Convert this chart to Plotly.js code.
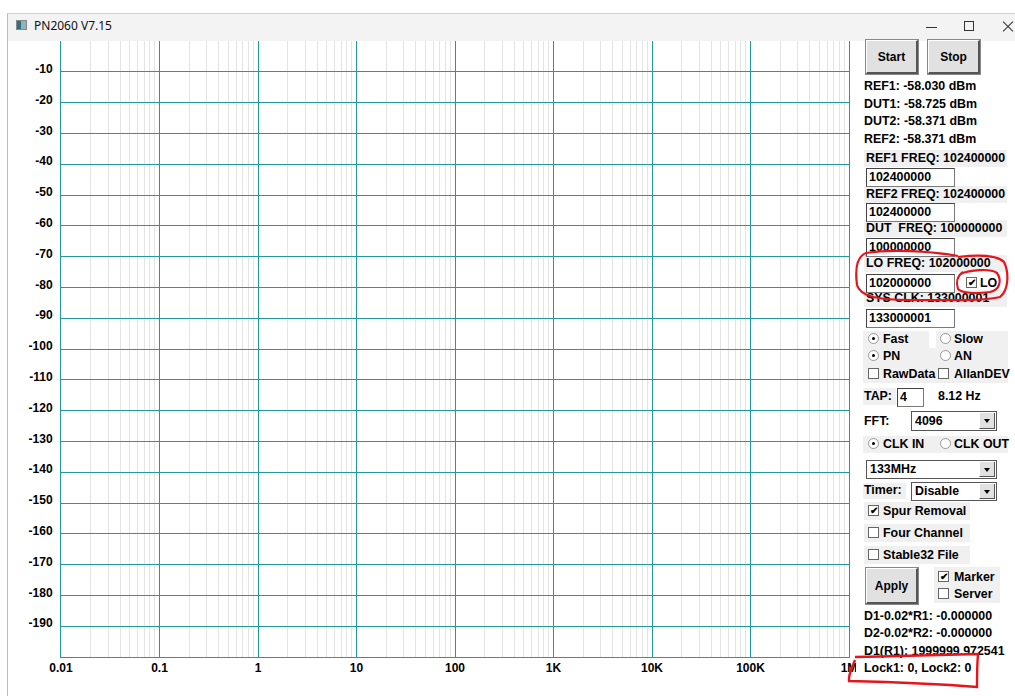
<!DOCTYPE html>
<html><head><meta charset="utf-8">
<script src="https://cdn.plot.ly/plotly-3.0.1.min.js"></script>
<style>
body{margin:0;background:#fff;overflow:hidden;width:1015px;height:696px;position:relative;font-family:"Liberation Sans",Arial,sans-serif;}
#chart{position:absolute;left:0;top:0;width:1015px;height:696px;}
.a{position:absolute;box-sizing:border-box;}
.lbl{position:absolute;font-weight:bold;font-size:12.4px;line-height:16px;height:16px;color:#000;white-space:nowrap;}
.gbg{position:absolute;background:#f0f0f0;}
.btn{position:absolute;box-sizing:border-box;background:#e1e1e1;border-top:1px solid #fff;border-left:1px solid #fff;border-right:2px solid #555;border-bottom:2px solid #555;outline:1px solid #888;font-weight:bold;font-size:12px;display:flex;align-items:center;justify-content:center;}
.inp{position:absolute;box-sizing:border-box;background:#fff;border:1px solid #7a7a7a;border-top-color:#444;border-left-color:#444;font-weight:bold;font-size:12.4px;line-height:16px;padding-left:2px;}
.chk{position:absolute;box-sizing:border-box;width:11px;height:11px;background:#fff;border:1px solid #666;font-size:10px;line-height:9px;text-align:center;font-weight:bold;}
.rad{position:absolute;box-sizing:border-box;width:11px;height:11px;border-radius:50%;background:#fff;border:1px solid #999;}
.rad.on::after{content:"";position:absolute;left:3px;top:3px;width:3px;height:3px;border-radius:50%;background:#000;}
.sel{position:absolute;box-sizing:border-box;background:#fff;border:1px solid #555;font-weight:bold;font-size:12.4px;padding-left:3px;}
.sel .dd{position:absolute;right:1px;top:1px;bottom:1px;width:14px;background:#e1e1e1;border-left:1px solid #fff;border-right:1px solid #555;border-bottom:1px solid #555;}
.sel .dd::after{content:"";position:absolute;left:4px;top:6px;border-left:3px solid transparent;border-right:3px solid transparent;border-top:4px solid #000;}
</style>
</head><body>
<div id="chart"></div>
<div id="ui"></div>
<script>
// ---- chart data (empty measurement, axes only) ----
const xTickVals = [0.01, 0.1, 1, 10, 100, 1000, 10000, 100000, 1000000];
const xTickText = ["0.01", "0.1", "1", "10", "100", "1K", "10K", "100K", "1M"];
const yTickVals = [-10, -20, -30, -40, -50, -60, -70, -80, -90, -100, -110, -120, -130, -140, -150, -160, -170, -180, -190];
const yTickText = ["-10", "-20", "-30", "-40", "-50", "-60", "-70", "-80", "-90", "-100", "-110", "-120", "-130", "-140", "-150", "-160", "-170", "-180", "-190"];
const xRangeLog = [-2, 6];
const yRange = [-200, 0];

// ---- panel texts ----
const powerReadings = ["REF1: -58.030 dBm", "DUT1: -58.725 dBm", "DUT2: -58.371 dBm", "REF2: -58.371 dBm"];
const freqLabels = ["REF1 FREQ: 102400000", "REF2 FREQ: 102400000", "DUT  FREQ: 100000000", "LO FREQ: 102000000", "SYS CLK: 133000001"];
const freqInputs = ["102400000", "102400000", "100000000", "102000000", "133000001"];
const diffReadings = ["D1-0.02*R1: -0.000000", "D2-0.02*R2: -0.000000", "D1(R1): 1999999.972541", "Lock1: 0, Lock2: 0"];

const minorVals = [];
xTickVals.slice(0, -1).forEach(v => { for (let k = 2; k <= 9; k++) minorVals.push(v * k); });

const teal = '#23999a';
const tf = {family: 'Liberation Sans, Arial, sans-serif', size: 12, color: '#000', weight: 'bold'};

Plotly.newPlot('chart', [{x: [], y: [], type: 'scatter', mode: 'lines', showlegend: false}], {
  width: 1015, height: 696,
  margin: {l: 61, r: 166, t: 41, b: 39, pad: 0},
  paper_bgcolor: '#fff', plot_bgcolor: '#fff',
  showlegend: false,
  xaxis: {type: 'log', range: xRangeLog, tickmode: 'array', tickvals: xTickVals, ticktext: xTickText,
    showgrid: true, gridcolor: teal, gridwidth: 1, showline: true, linecolor: teal, linewidth: 1, mirror: true,
    ticks: '', zeroline: false, tickfont: tf, ticklabelstandoff: 0, fixedrange: true,
    minor: {tickvals: minorVals, showgrid: true, gridcolor: '#e4e4e4', gridwidth: 1, ticks: ''}},
  yaxis: {range: yRange, tickmode: 'array', tickvals: yTickVals, ticktext: yTickText,
    showgrid: true, gridcolor: teal, gridwidth: 1, showline: true, linecolor: teal, linewidth: 1, mirror: true,
    ticks: '', zeroline: false, tickfont: tf, ticklabelstandoff: 5, ticklabelshift: -3, fixedrange: true}
}, {staticPlot: true, displayModeBar: false});

// ---- window chrome and side panel ----
const ui = document.getElementById('ui');
function el(cls, x, y, w, h, html, style) {
  const d = document.createElement('div');
  d.className = cls;
  d.style.left = x + 'px'; d.style.top = y + 'px';
  if (w != null) d.style.width = w + 'px';
  if (h != null) d.style.height = h + 'px';
  if (html != null) d.innerHTML = html;
  if (style) Object.assign(d.style, style);
  ui.appendChild(d);
  return d;
}
function lbl(t, x, cy) { return el('lbl', x, cy - 8, null, null, t.replace(/  /g, ' &nbsp;')); }
function chk(x, cy, on) { return el('chk', x, cy - 6, null, null, on ? '&#10004;' : ''); }
function rad(x, cy, on) { return el('rad' + (on ? ' on' : ''), x, cy - 6); }
function sel(x, y, w, h, t) { const d = el('sel', x, y, w, h, t + '<div class="dd"></div>'); d.style.lineHeight = (h - 2) + 'px'; return d; }

// outer window frame
el('a', 0, 0, 1015, 13, null, {background: '#fff'});
el('a', 7, 13, 1008, 28, null, {background: '#f3f3f3', borderTop: '1px solid #cfcfcf', borderLeft: '1px solid #bdbdbd'});
el('a', 7, 41, 1, 655, null, {background: '#bdbdbd'});
el('a', 16, 20, 11, 10, null, {background: 'linear-gradient(90deg,#2f6f8a 0 45%,#8fb5b5 45% 100%)', border: '1px solid #888'});
el('a', 34, 18, null, 16, 'PN2060 V7.15', {font: '12px "Noto Sans","Open Sans",sans-serif', lineHeight: '16px', color: '#111'});
el('a', 926, 27, 11, 1, null, {background: '#333'});
el('a', 964, 21, 10, 10, null, {border: '1px solid #333'});
el('a', 1001, 26, 14, 1, null, {background: '#333', transform: 'rotate(45deg)'});
el('a', 1001, 26, 14, 1, null, {background: '#333', transform: 'rotate(-45deg)'});

// panel background
el('a', 856, 41, 159, 655, null, {background: '#fff'});

// gray label backgrounds
[150, 186, 220, 255, 290].forEach(y => el('gbg', 864, y, 143, 17));
el('gbg', 863, 331, 66, 18); el('gbg', 936, 331, 72, 18);
el('gbg', 863, 348, 145, 35);
el('gbg', 863, 388, 33, 17);
el('gbg', 863, 436, 145, 17);
el('gbg', 863, 483, 43, 16);
[502, 524, 546].forEach(y => el('gbg', 864, y, 106, 18));
el('gbg', 934, 567, 66, 36);

// buttons
el('btn', 866, 40, 52, 34, 'Start');
el('btn', 928, 40, 52, 34, 'Stop');
el('btn', 866, 568, 52, 36, 'Apply');

powerReadings.forEach((t, i) => lbl(t, 864, 86 + i * 17.6));

const lblY = [158, 194, 228, 263, 298];
const inY = [168, 203, 238, 274, 309];
freqLabels.forEach((t, i) => lbl(t, 866, lblY[i]));
freqInputs.forEach((t, i) => el('inp', 866, inY[i], 89, 19, t));

// LO checkbox
chk(966, 283, true); lbl('LO', 980, 283);

// radios / checkboxes
rad(868, 339, true); lbl('Fast', 883, 339);
rad(940, 339, false); lbl('Slow', 954, 339);
rad(868, 356, true); lbl('PN', 883, 356);
rad(940, 356, false); lbl('AN', 954, 356);
chk(868, 374, false); lbl('RawData', 883, 374);
chk(938, 374, false); lbl('AllanDEV', 954, 374);

lbl('TAP:', 864, 396);
el('inp', 897, 388, 27, 19, '4');
lbl('8.12 Hz', 938, 396);

lbl('FFT:', 864, 421);
sel(911, 411, 86, 20, '4096');

rad(868, 444, true); lbl('CLK IN', 883, 444);
rad(940, 444, false); lbl('CLK OUT', 954, 444);

sel(866, 460, 131, 19, '133MHz');
lbl('Timer:', 864, 490);
sel(911, 482, 86, 19, 'Disable');

chk(868, 511, true); lbl('Spur Removal', 883, 511);
chk(868, 533, false); lbl('Four Channel', 883, 533);
chk(868, 555, false); lbl('Stable32 File', 883, 555);

chk(938, 577, true); lbl('Marker', 954, 577);
chk(938, 594, false); lbl('Server', 954, 594);

diffReadings.forEach((t, i) => lbl(t, 864, 616 + i * 17.3));

// hand-drawn red marks
const svg = document.createElementNS('http://www.w3.org/2000/svg', 'svg');
svg.setAttribute('width', 1015); svg.setAttribute('height', 696);
svg.style.position = 'absolute'; svg.style.left = '0'; svg.style.top = '0';
svg.innerHTML =
 '<path d="M958,256 C930,251 890,249 866,253 C856,257 855,270 857,285 C860,297 880,300 910,300 C950,300 985,301 1000,297 C1009,290 1009,272 1004,262 C996,254 975,255 958,257" fill="none" stroke="#e8141c" stroke-width="2.2"/>' +
 '<path d="M960,274 C970,270 990,268 997,273 C1002,280 1000,290 990,292 C975,294 962,293 958,289 C956,283 957,276 963,272" fill="none" stroke="#e8141c" stroke-width="2.2"/>' +
 '<path d="M855,657 C900,656 950,655 978,654 C977,665 977,678 977,687 C940,684 890,682 849,681 C848,675 852,668 855,660" fill="none" stroke="#e8141c" stroke-width="2.4"/>';
ui.appendChild(svg);
</script>
</body></html>
